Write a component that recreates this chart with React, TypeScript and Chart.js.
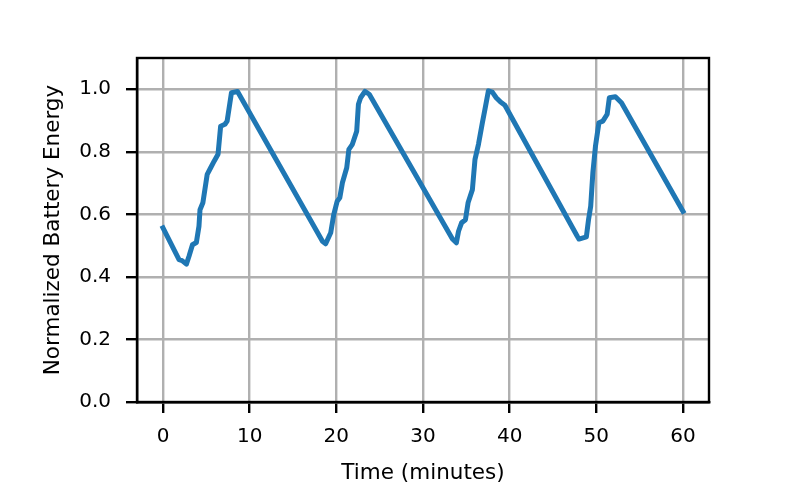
import React, { useEffect, useRef } from "react";
import { Chart, registerables } from "chart.js";

Chart.register(...registerables);

const timeMinutes = [
  0, 1.85, 2.2, 2.7, 3.0, 3.4, 3.85, 4.15, 4.27, 4.6, 5.1, 5.5, 5.9, 6.35, 6.65, 7.15, 7.4, 7.9, 8.6,
  18.4, 18.77, 19.35, 19.7, 20.1, 20.4, 20.7, 21.2, 21.45, 21.85, 22.35, 22.55, 22.8, 23.3, 23.8,
  33.4, 33.85, 34.1, 34.45, 34.9, 35.2, 35.7, 36.0, 36.4, 36.85, 37.15, 37.55, 38.0, 38.45, 38.95, 39.45,
  47.8, 48.0, 48.85, 49.1, 49.35, 49.6, 49.9, 50.3, 50.75, 51.25, 51.5, 52.2, 52.9, 60,
];
const batteryEnergy = [
  0.557, 0.455, 0.452, 0.441, 0.466, 0.503, 0.51, 0.562, 0.615, 0.637, 0.728, 0.749, 0.77, 0.792, 0.882, 0.888, 0.898, 0.989, 0.993,
  0.514, 0.506, 0.541, 0.599, 0.642, 0.653, 0.701, 0.749, 0.808, 0.824, 0.866, 0.952, 0.973, 0.993, 0.984,
  0.521, 0.509, 0.546, 0.573, 0.583, 0.637, 0.679, 0.776, 0.824, 0.893, 0.936, 0.995, 0.991, 0.973, 0.959, 0.949,
  0.53, 0.521, 0.528, 0.583, 0.626, 0.733, 0.818, 0.893, 0.898, 0.92, 0.973, 0.976, 0.957, 0.61,
];
const xTickValues = [0, 10, 20, 30, 40, 50, 60];
const yTickValues = [0, 0.2, 0.4, 0.6, 0.8, 1.0];
const xLabel = "Time (minutes)";
const yLabel = "Normalized Battery Energy";

const FONT = "'DejaVu Sans', sans-serif";

const framePlugin = {
  id: "frame",
  afterDraw(chart: any) {
    const { ctx, chartArea: a } = chart;
    ctx.save();
    ctx.strokeStyle = "#000";
    ctx.lineWidth = 2.4;
    ctx.strokeRect(a.left, a.top, a.right - a.left, a.bottom - a.top);
    ctx.restore();
  },
};

export default function App() {
  const ref = useRef<HTMLCanvasElement | null>(null);
  useEffect(() => {
    if (!ref.current) return;
    const points = timeMinutes.map((t, i) => ({ x: t, y: batteryEnergy[i] }));
    const tickFont = { family: FONT, size: 20 };
    const titleFont = { family: FONT, size: 21.5 };
    const grid = {
      color: "#b0b0b0",
      lineWidth: 2.4,
      drawTicks: true,
      tickColor: "#000",
      tickLength: 11,
      tickWidth: 2.4,
    };
    const chart = new Chart(ref.current, {
      type: "line",
      data: {
        datasets: [
          {
            data: points,
            borderColor: "#1f77b4",
            borderWidth: 5,
            pointRadius: 0,
            tension: 0,
            fill: false,
            borderJoinStyle: "round",
            borderCapStyle: "square",
          },
        ],
      },
      options: {
        responsive: false,
        animation: false,
        events: [],
        layout: { padding: { left: 0, right: 78, top: 58, bottom: 0 } },
        plugins: { legend: { display: false }, tooltip: { enabled: false } },
        scales: {
          x: {
            type: "linear",
            min: -3,
            max: 63,
            afterBuildTicks: (s: any) => {
              s.ticks = xTickValues.map((v) => ({ value: v }));
            },
            afterFit: (s: any) => {
              s.height = 85;
            },
            ticks: {
              color: "#000",
              font: tickFont,
              padding: 12,
              maxRotation: 0,
              autoSkip: false,
              callback: (v: any) => String(v),
            },
            grid,
            border: { display: true, color: "#000", width: 2.4 },
            title: {
              display: true,
              text: xLabel,
              color: "#000",
              font: titleFont,
              padding: { top: 0, bottom: 1 },
            },
          },
          y: {
            type: "linear",
            min: 0,
            max: 1.1,
            afterBuildTicks: (s: any) => {
              s.ticks = yTickValues.map((v) => ({ value: v }));
            },
            afterFit: (s: any) => {
              s.width = 137;
            },
            ticks: {
              color: "#000",
              font: tickFont,
              padding: 15,
              autoSkip: false,
              callback: (v: any) => Number(v).toFixed(1),
            },
            grid,
            border: { display: true, color: "#000", width: 2.4 },
            title: {
              display: true,
              text: yLabel,
              color: "#000",
              font: titleFont,
              padding: { top: 41, bottom: 0 },
            },
          },
        },
      },
      plugins: [framePlugin],
    } as any);
    return () => chart.destroy();
  }, []);
  return (
    <div style={{ position: "absolute", left: 0, top: 0, width: 787, height: 487, background: "#fff" }}>
      <canvas ref={ref} width={787} height={487} />
    </div>
  );
}
